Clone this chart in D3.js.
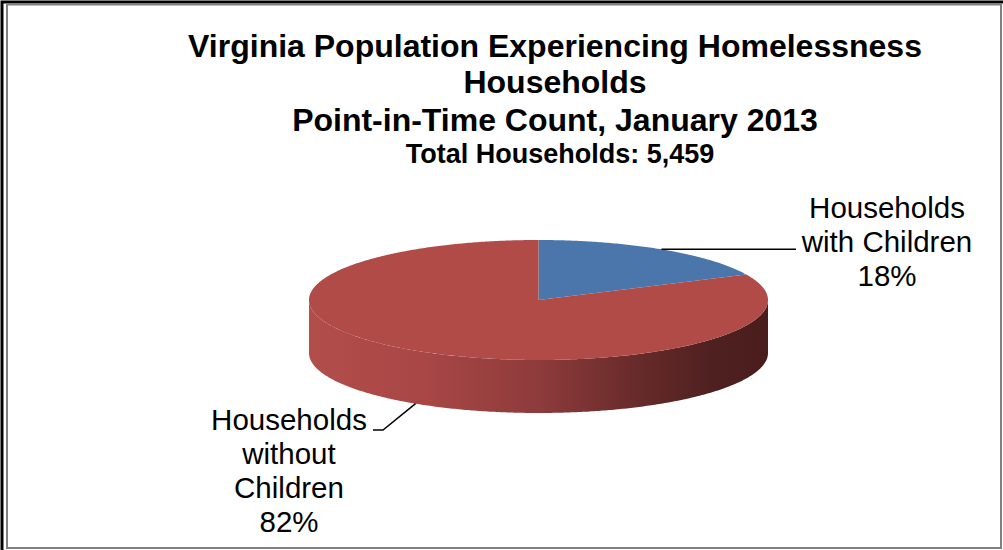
<!DOCTYPE html>
<html>
<head>
<meta charset="utf-8">
<script src="https://cdn.jsdelivr.net/npm/d3@7"></script>
<style>
  html, body { margin: 0; padding: 0; background: #fff; }
  svg { display: block; }
  text { font-family: "Liberation Sans", Arial, sans-serif; fill: #000; }
</style>
</head>
<body>
<svg id="chart" width="1003" height="550"></svg>
<script>
// Household counts by type (share of 5,459 total households)
const categories = ["Households with Children", "Households without Children"];
const shares = [18, 82];
const labelLines = [["Households", "with Children"], ["Households", "without", "Children"]];
const titleLines = [
  "Virginia Population Experiencing Homelessness",
  "Households",
  "Point-in-Time Count, January 2013"
];
const subtitle = "Total Households: 5,459";

const W = 1003, H = 550;
const svg = d3.select("#chart");

// frame
svg.append("path")
  .attr("d", "M2,550 L2,2 L1003,2")
  .attr("fill", "none").attr("stroke", "#000").attr("stroke-width", 3);
svg.append("rect")
  .attr("x", 7).attr("y", 4.5).attr("width", 994).attr("height", 543.5)
  .attr("fill", "none").attr("stroke", "#808080").attr("stroke-width", 2);

// titles
const titleBase = [57, 93, 131];
titleLines.forEach((t, i) => {
  svg.append("text").attr("x", 555).attr("y", titleBase[i])
    .attr("text-anchor", "middle").attr("font-weight", "bold")
    .attr("font-size", 32).text(t);
});
svg.append("text").attr("x", 560).attr("y", 163)
  .attr("text-anchor", "middle").attr("font-weight", "bold")
  .attr("font-size", 27).text(subtitle);

// 3D pie geometry
const cx = 538.5, cy = 300, rx = 229.5, ry = 60, depth = 53;
const colors = ["#4a76ac", "#b04b48"];
const sideStops = [
  [["0%", "#4a76ac"], ["100%", "#22385a"]],
  [["0%", "#b24d4a"], ["25%", "#a84746"], ["50%", "#8e3b3b"], ["72%", "#672a2a"], ["88%", "#4f2020"], ["100%", "#4a1d1d"]]
];

const pie = d3.pie().sort(null).startAngle(0).endAngle(2 * Math.PI)(shares);

// angle measured clockwise from 12 o'clock
const px = a => cx + rx * Math.sin(a);
const py = a => cy - ry * Math.cos(a);

function arcPoints(a0, a1, dy) {
  const n = Math.max(2, Math.ceil(Math.abs(a1 - a0) / 0.01));
  const pts = [];
  for (let i = 0; i <= n; i++) {
    const a = a0 + (a1 - a0) * i / n;
    pts.push([px(a), py(a) + dy]);
  }
  return pts;
}

const defs = svg.append("defs");
sideStops.forEach((stops, i) => {
  const g = defs.append("linearGradient").attr("id", "side" + i)
    .attr("gradientUnits", "userSpaceOnUse")
    .attr("x1", cx - rx).attr("y1", 0).attr("x2", cx + rx).attr("y2", 0);
  stops.forEach(s => g.append("stop").attr("offset", s[0]).attr("stop-color", s[1]));
});

const line = d3.line();

// side walls: only the front half (angles between PI/2 and 3PI/2) is visible
pie.forEach((d, i) => {
  const a0 = Math.max(d.startAngle, Math.PI / 2);
  const a1 = Math.min(d.endAngle, 3 * Math.PI / 2);
  if (a1 <= a0) return;
  const top = arcPoints(a0, a1, 0);
  const bottom = arcPoints(a1, a0, depth);
  svg.append("path")
    .attr("d", line(top.concat(bottom)) + "Z")
    .attr("fill", `url(#side${i})`);
});

// top faces
pie.forEach((d, i) => {
  const pts = [[cx, cy]].concat(arcPoints(d.startAngle, d.endAngle, 0));
  svg.append("path")
    .attr("d", line(pts) + "Z")
    .attr("fill", colors[i]);
});

// labels with leader lines
const fs = 29.5, lh = 34;
pie.forEach((d, i) => {
  const mid = (d.startAngle + d.endAngle) / 2;
  const pct = Math.round(shares[i] / d3.sum(shares) * 100) + "%";
  const lines = labelLines[i].concat([pct]);
  let leader, lx, ly0;
  if (Math.cos(mid) > 0) {
    const ax = px(mid), ay = py(mid);
    leader = [[ax, ay], [796, ay]];
    lx = 887; ly0 = 218;
  } else {
    const ax = px(mid), ay = py(mid) + depth;
    leader = [[ax, ay], [383, 430], [373, 430]];
    lx = 289; ly0 = 430;
  }
  svg.append("path").attr("d", line(leader))
    .attr("fill", "none").attr("stroke", "#000").attr("stroke-width", 1.5);
  lines.forEach((t, k) => {
    svg.append("text").attr("x", lx).attr("y", ly0 + k * lh)
      .attr("text-anchor", "middle").attr("font-size", fs).text(t);
  });
});
</script>
</body>
</html>
